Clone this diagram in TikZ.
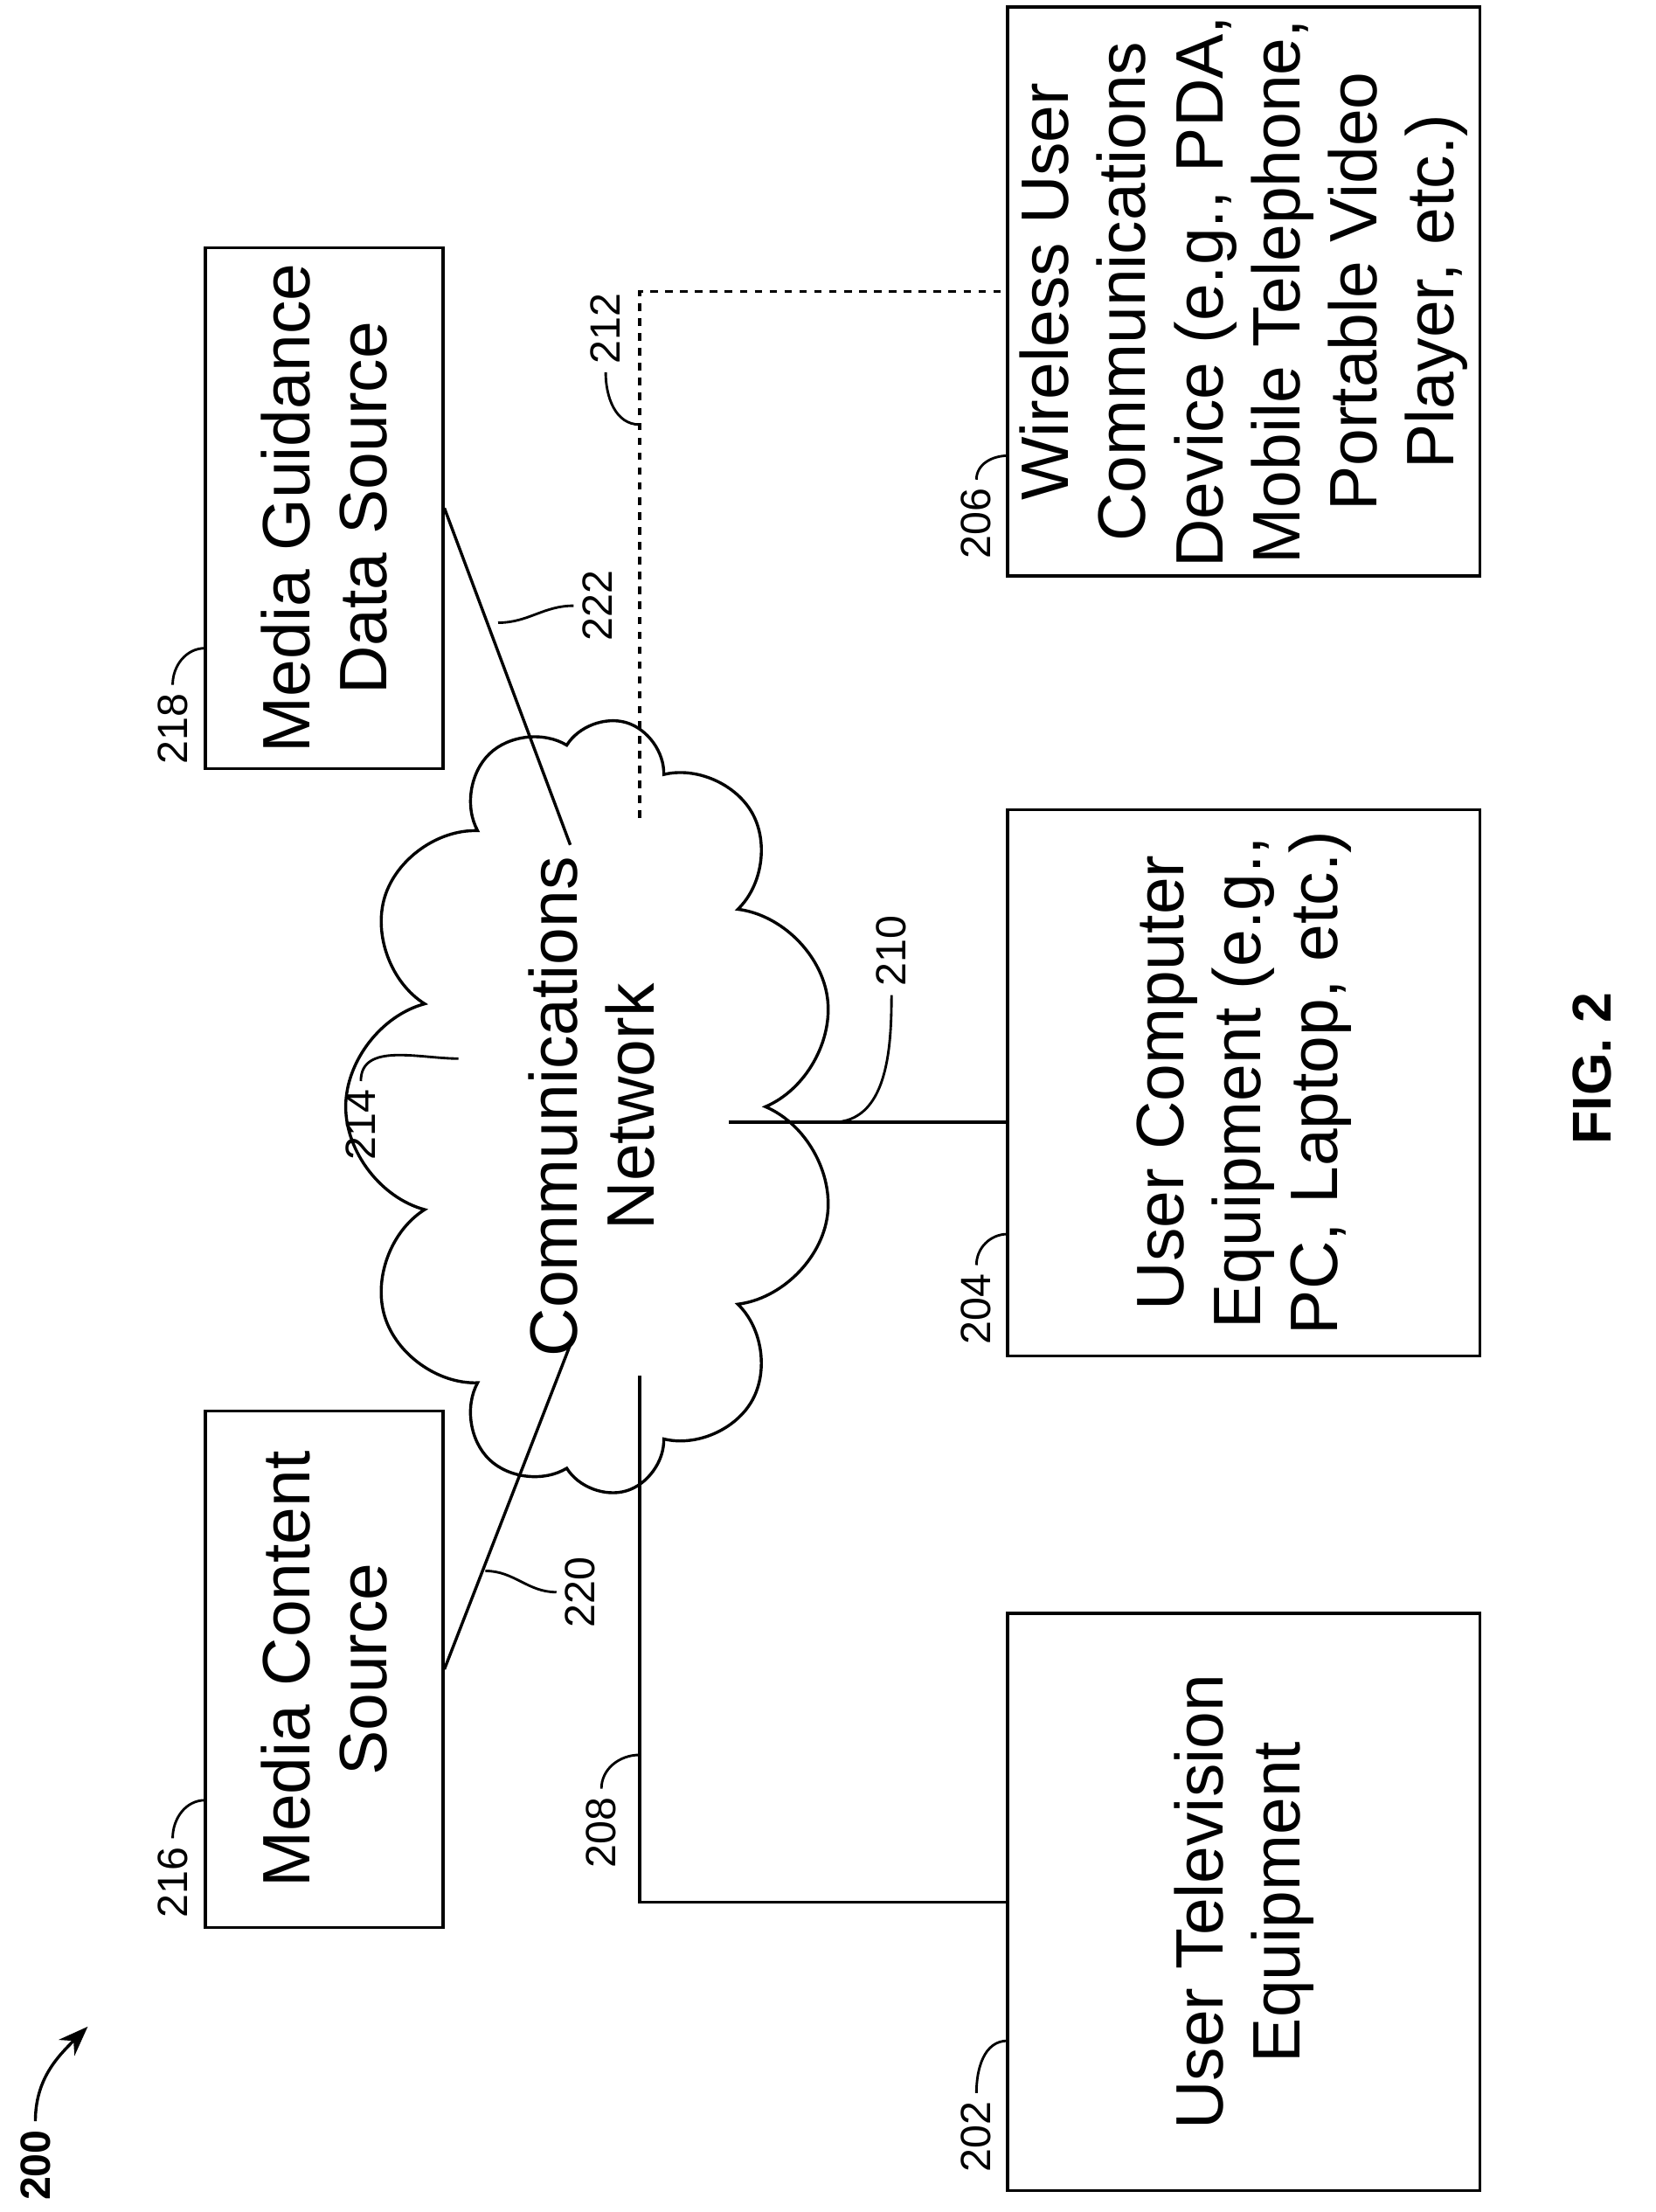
\documentclass[tikz,border=0pt]{standalone}
\usepackage{fontspec}
\setmainfont{Liberation Sans}
\usetikzlibrary{shapes.symbols,arrows.meta}
\tikzset{
  box/.style={draw, line width=1.2pt, rotate=90, align=center, font=\fontsize{27}{31}\selectfont},
  refnum/.style={rotate=90, font=\fontsize{17}{19}\selectfont},
  leader/.style={line width=1pt},
  link/.style={line width=1.2pt}
}
\begin{document}
\begin{tikzpicture}[x=0.02cm,y=-0.02cm]
  \useasboundingbox (0,0) rectangle (1170,1563);

  \node (mcs) [box, minimum width=7.3cm, minimum height=3.36cm] at (229,1179.5) {Media Content\\Source};
  \node (mgd) [box, minimum width=7.36cm, minimum height=3.36cm] at (229,359) {Media Guidance\\Data Source};
  \node (tv)  [box, minimum width=8.16cm, minimum height=6.68cm] at (879,1344) {User Television\\Equipment};
  \node (uce) [box, minimum width=7.72cm, minimum height=6.68cm] at (879,765) {User Computer\\Equipment (e.g.,\\PC, Laptop, etc.)};
  \node (wuc) [box, minimum width=7.76cm, minimum height=6.68cm] at (879,206) {Wireless User\\Communications\\Device (e.g., PDA,\\Mobile Telephone,\\Portable Video\\Player, etc.)};
  \node (net) [draw, cloud, cloud puffs=11, aspect=2.1, line width=1.2pt, rotate=90,
    minimum width=8.1cm, minimum height=3.9cm, align=center, font=\fontsize{27}{31}\selectfont]
    at (418,782) {Communications\\Network};

  \coordinate (n220) at (405,945);
  \coordinate (n222) at (403,597);
  \coordinate (n212) at (452,578);
  \coordinate (n210) at (515,793);
  \coordinate (n208) at (452,972);

  \draw[link] (mcs.south) -- (n220);
  \draw[link] (mgd.south) -- (n222);
  \draw[link, dashed] (n212) |- (wuc.north);
  \draw[link] (n210) -- (n210 -| uce.north);
  \draw[link] (n208) |- (tv.north);

  \node (l216) [refnum] at (122,1330) {216};
  \node (l218) [refnum] at (122,515) {218};
  \node (l202) [refnum] at (690,1510) {202};
  \node (l204) [refnum] at (690,925) {204};
  \node (l206) [refnum] at (690,370) {206};
  \node (l214) [refnum] at (255,795) {214};
  \node (l210) [refnum] at (630,672) {210};
  \node (l212) [refnum] at (428,232) {212};
  \node (l222) [refnum] at (422,428) {222};
  \node (l220) [refnum] at (410,1125) {220};
  \node (l208) [refnum] at (425,1295) {208};

  \draw[leader] (l216.east) to[out=90,in=180] (145,1272);
  \draw[leader] (l218.east) to[out=90,in=180] (145,458);
  \draw[leader] (l202.east) to[out=90,in=180] (712,1442);
  \draw[leader] (l204.east) to[out=90,in=180] (712,872);
  \draw[leader] (l206.east) to[out=90,in=180] (712,322);
  \draw[leader] (l214.east) to[out=90,in=180] (324,748);
  \draw[leader] (l210.west) to[out=-90,in=0] (588,793);
  \draw[leader] (l212.west) to[out=-90,in=180] (452,300);
  \draw[leader] (l222.north) to[out=180,in=0] (352,440);
  \draw[leader] (l220.north) to[out=180,in=0] (343,1110);
  \draw[leader] (l208.east) to[out=90,in=180] (452,1240);

  \node (l200) [refnum, font=\bfseries\fontsize{17}{19}\selectfont] at (25,1530) {200};
  \draw[line width=1.2pt, -{Stealth[length=12pt]}] (l200.east) to[out=90,in=-135] (62,1432);

  \node (fig) [rotate=90, font=\bfseries\fontsize{22}{26}\selectfont] at (1125,755) {FIG. 2};
\end{tikzpicture}
\end{document}
